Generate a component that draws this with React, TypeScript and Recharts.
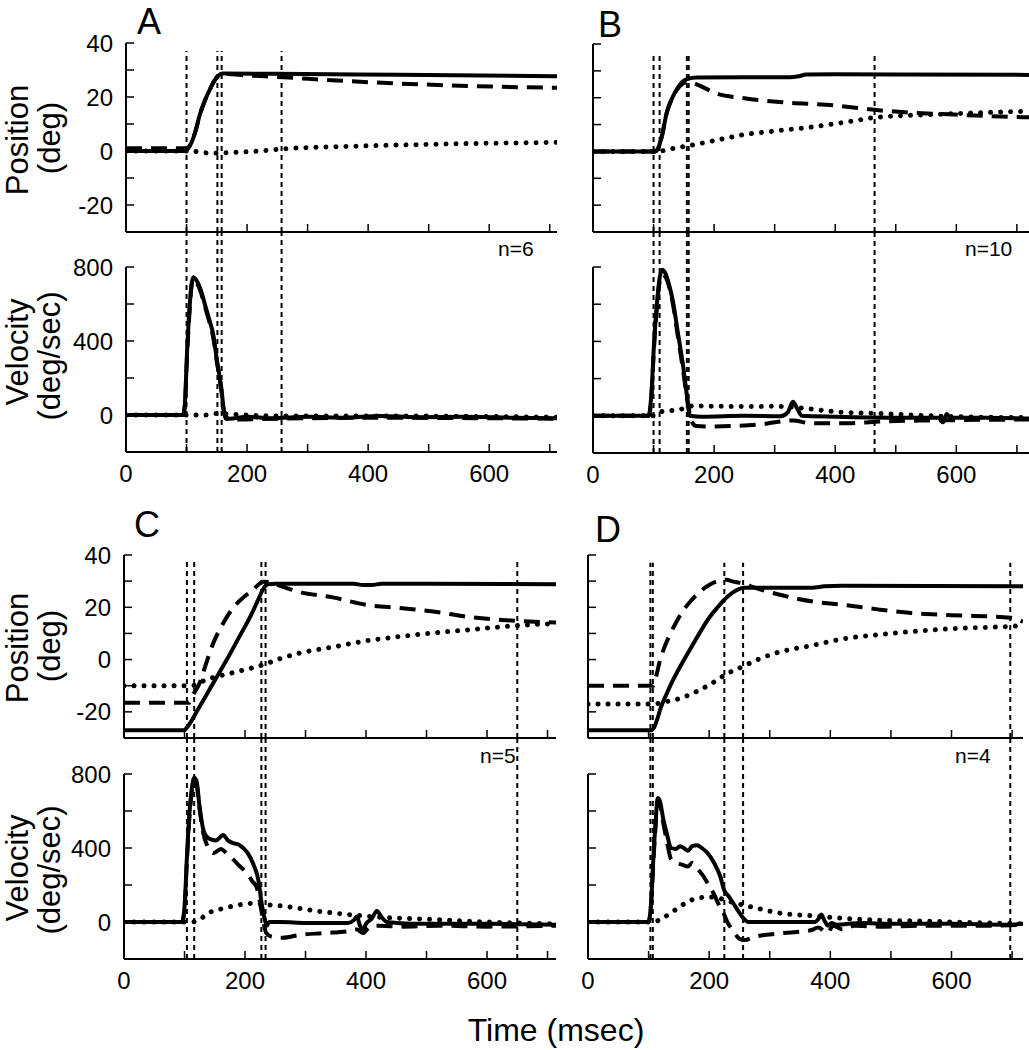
import React from "react";
import { Line, LineChart, ReferenceLine, XAxis, YAxis } from "recharts";

type Pt = [number, number];

const FONT = '"Liberation Sans", Arial, Helvetica, sans-serif';

// axes
const timeTicks = [0, 100, 200, 300, 400, 500, 600, 700];
const timeLabels = [0, 200, 400, 600];
const posTicks = [-30, -20, -10, 0, 10, 20, 30, 40];
const posLabels = [-20, 0, 20, 40];
const velTicks = [-200, 0, 200, 400, 600, 800];
const velLabels = [0, 400, 800];

// ---- panel A ----
const aEvents = [100, 151, 158, 257];
const aPosSolid: Pt[] = [[0, 0], [98, 0], [102, 0.8], [108, 3], [115, 7.5], [122, 13.5], [130, 18.5], [139, 23], [146, 26], [153, 28], [160, 28.7], [250, 28.6], [450, 28.2], [712, 27.7]];
const aPosDashed: Pt[] = [[0, 1], [98, 1], [102, 1.2], [108, 3], [115, 7.5], [122, 13.5], [130, 18.5], [139, 23], [146, 26], [153, 28], [162, 28.5], [200, 28], [260, 27.3], [340, 26.2], [450, 25], [617, 23.8], [712, 23.4]];
const aPosDotted: Pt[] = [[0, 0], [105, 0], [140, -0.8], [170, -0.6], [220, 0], [260, 0.8], [350, 1.6], [450, 2.2], [550, 2.7], [650, 3], [712, 3.2]];
const aVelSolid: Pt[] = [[0, 0], [94, 0], [97, 50], [101, 350], [105, 580], [108, 700], [111, 745], [116, 730], [123, 680], [131, 590], [138, 510], [144, 437], [150, 300], [155, 200], [158, 133], [161, 40], [164, 0], [170, -20], [200, -10], [240, -18], [300, -10], [360, -15], [420, -5], [480, -12], [560, -10], [640, -15], [712, -18]];
const aVelDashed: Pt[] = [[0, 0], [94, 0], [97, 40], [101, 330], [105, 560], [108, 690], [111, 735], [116, 720], [123, 670], [131, 580], [138, 500], [144, 420], [150, 290], [155, 190], [158, 120], [161, 30], [165, -20], [180, -25], [250, -20], [400, -15], [712, -20]];
const aVelDotted: Pt[] = [[0, 0], [100, 0], [130, 0], [150, 8], [170, 5], [250, -5], [400, -5], [712, -12]];

// ---- panel B ----
const bEvents = [100, 110, 155, 158, 465];
const bPosSolid: Pt[] = [[0, 0], [103, 0], [107, 1], [113, 5], [122, 14.6], [130, 19.5], [138, 23], [147, 25.8], [157, 27], [171, 27.5], [250, 27.6], [325, 27.6], [340, 28], [352, 28.6], [400, 28.7], [720, 28.5]];
const bPosDashed: Pt[] = [[0, 0], [103, 0], [107, 1], [113, 5], [122, 14.6], [130, 19.5], [138, 22.8], [147, 25], [157, 26], [171, 25], [205, 21.5], [250, 19.8], [313, 18.3], [396, 17.2], [468, 15.4], [520, 14.5], [578, 13.9], [650, 13.2], [720, 12.7]];
const bPosDotted: Pt[] = [[0, 0], [105, 0], [130, 1], [160, 2.2], [200, 4], [248, 6.2], [300, 7.6], [358, 9], [420, 11], [468, 12.7], [520, 13.4], [578, 13.9], [650, 14.5], [720, 15]];
const bVelSolid: Pt[] = [[0, 0], [92, 0], [96, 100], [101, 400], [106, 620], [110, 740], [114, 785], [119, 770], [126, 700], [132, 615], [140, 450], [149, 264], [155, 110], [160, 0], [180, -5], [250, 0], [310, -2], [322, 20], [330, 75], [337, 40], [345, 0], [400, -5], [500, -10], [570, -10], [578, -35], [584, 10], [590, -10], [650, -10], [720, -15]];
const bVelDashed: Pt[] = [[0, 0], [92, 0], [96, 80], [101, 380], [106, 600], [110, 720], [114, 760], [119, 750], [126, 690], [132, 600], [140, 430], [149, 240], [156, 80], [163, -30], [170, -55], [190, -58], [230, -55], [280, -45], [310, -30], [330, -25], [360, -40], [420, -40], [480, -30], [560, -25], [720, -20]];
const bVelDotted: Pt[] = [[0, 0], [100, 0], [110, 20], [122, 26], [145, 35], [160, 53], [250, 50], [303, 51], [350, 40], [403, 21], [468, 13], [520, 5], [600, -5], [720, -10]];

// ---- panel C ----
const cEvents = [104, 116, 227, 234, 650];
const cPosSolid: Pt[] = [[0, -27], [100, -27], [104, -26], [110, -24], [120, -20], [135, -14], [150, -8], [170, 0], [190, 8.5], [210, 17], [222, 23], [230, 27], [238, 28.8], [250, 29], [380, 29], [395, 28.5], [410, 28.5], [425, 29], [714, 28.8]];
const cPosDashed: Pt[] = [[0, -16.5], [108, -16.5], [113, -14], [125, -9], [135, -2], [147, 6], [163, 13.5], [180, 19.7], [196, 23.5], [213, 26.6], [230, 29.8], [240, 29.6], [252, 28.7], [291, 25.8], [345, 23.8], [401, 20.9], [456, 19.7], [511, 18.4], [566, 16.4], [649, 14.8], [714, 14.2]];
const cPosDotted: Pt[] = [[0, -10], [112, -10], [135, -7.8], [180, -5], [230, -2], [260, 0.5], [291, 2.5], [345, 4.8], [401, 7.2], [456, 8.8], [511, 10.2], [566, 11.3], [649, 13], [714, 13.8]];
const cVelSolid: Pt[] = [[0, 0], [96, 0], [100, 80], [104, 350], [108, 580], [112, 720], [116, 780], [120, 760], [125, 620], [131, 500], [137, 460], [145, 445], [152, 440], [158, 455], [164, 470], [172, 440], [180, 427], [190, 418], [197, 400], [205, 370], [213, 319], [222, 227], [228, 90], [233, 10], [236, -20], [240, 0], [260, 0], [300, -5], [370, -5], [380, 10], [385, 30], [390, -20], [395, -40], [400, -10], [410, 20], [418, 60], [425, 30], [435, 0], [450, -5], [500, -10], [600, -10], [714, -15]];
const cVelDashed: Pt[] = [[0, 0], [96, 0], [100, 70], [104, 330], [108, 560], [112, 700], [116, 760], [120, 740], [125, 610], [131, 480], [138, 410], [148, 373], [155, 385], [160, 395], [170, 370], [180, 340], [192, 300], [203, 265], [212, 220], [219, 190], [225, 100], [230, 10], [235, -60], [245, -80], [262, -85], [290, -70], [330, -60], [370, -50], [385, -40], [395, -60], [405, -30], [420, -20], [460, -25], [520, -20], [600, -25], [714, -20]];
const cVelDotted: Pt[] = [[0, 0], [110, 0], [125, 12], [135, 40], [160, 70], [180, 86], [213, 101], [240, 92], [263, 86], [317, 60], [372, 40], [428, 25], [500, 15], [600, 0], [714, -10]];

// ---- panel D ----
const dEvents = [103, 107, 225, 256, 697];
const dPosSolid: Pt[] = [[0, -27], [105, -27], [109, -26], [114, -23], [120, -18.5], [130, -13], [140, -8], [155, -1.5], [170, 4.5], [185, 10.5], [200, 16], [214, 20], [230, 24], [245, 26.5], [258, 27.5], [300, 27.5], [370, 27.5], [390, 28], [420, 28.2], [718, 28]];
const dPosDashed: Pt[] = [[0, -10], [108, -10], [113, -6], [118, -1], [125, 4], [135, 9.5], [145, 14], [155, 18], [170, 22.5], [185, 26], [200, 28.5], [214, 30], [228, 30.5], [240, 29.8], [258, 29], [275, 27.5], [313, 25], [368, 22.3], [420, 21], [478, 19.2], [533, 17.8], [600, 17], [698, 16], [718, 14.5]];
const dPosDotted: Pt[] = [[0, -17], [110, -17], [120, -16.5], [150, -15], [181, -12], [205, -9], [225, -6], [252, -3], [280, 0], [313, 2.7], [368, 5.3], [423, 8], [480, 9.5], [533, 10.7], [600, 11.8], [698, 12.7], [718, 13]];
const dVelSolid: Pt[] = [[0, 0], [100, 0], [104, 100], [108, 350], [112, 560], [115, 670], [119, 650], [124, 560], [130, 480], [137, 400], [145, 395], [152, 410], [158, 400], [165, 385], [172, 410], [180, 415], [188, 400], [198, 370], [208, 320], [218, 250], [225, 170], [232, 140], [240, 100], [250, 50], [258, 15], [264, 0], [300, 0], [375, 0], [380, 15], [385, 40], [390, 10], [396, -20], [402, -5], [410, -15], [450, -5], [500, -10], [600, -10], [690, -15], [718, -10]];
const dVelDashed: Pt[] = [[0, 0], [100, 0], [104, 90], [108, 330], [112, 540], [115, 650], [119, 630], [124, 540], [130, 440], [137, 340], [145, 320], [155, 310], [165, 300], [172, 320], [180, 290], [190, 250], [198, 206], [208, 150], [215, 100], [222, 60], [230, 0], [240, -50], [250, -90], [258, -97], [275, -80], [313, -63], [340, -55], [368, -45], [380, -30], [395, -60], [405, -20], [420, -40], [440, -20], [480, -25], [550, -20], [650, -20], [718, -15]];
const dVelDotted: Pt[] = [[0, 0], [108, 0], [120, 15], [137, 50], [160, 100], [181, 130], [200, 135], [214, 130], [235, 110], [258, 90], [285, 70], [313, 50], [368, 34], [420, 20], [480, 10], [550, 5], [650, -5], [718, -10]];

const toRows = (a: Pt[]) => a.map(([t, v]) => ({ t, v }));

const SOLID = { stroke: "#000", strokeWidth: 4 };
const DASHED = { stroke: "#000", strokeWidth: 4, strokeDasharray: "16 9" };
const DOTTED = { stroke: "#000", strokeWidth: 5, strokeDasharray: "0.01 10", strokeLinecap: "round" as const };

type Box = { x: number; y: number; w: number; h: number };

function SubPlot(props: {
  box: Box;
  gapTop: number;
  xMax: number;
  yDomain: [number, number];
  yTicks: number[];
  yShown: number[];
  xShown: number[];
  events: number[];
  evLow: number;
  evHigh: number;
  solid: Pt[];
  dashed: Pt[];
  dotted: Pt[];
}) {
  const { box, gapTop, xMax, yDomain, yTicks, yShown, xShown, events, evLow, evHigh } = props;
  const yW = 70;
  const xH = 40;
  const mr = 8;
  const tickStyle = { fill: "#000", fontSize: 24, fontFamily: FONT };
  return (
    <div style={{ position: "absolute", left: box.x - yW, top: box.y - gapTop }}>
      <LineChart
        width={yW + box.w + mr}
        height={gapTop + box.h + xH}
        margin={{ top: gapTop, right: mr, bottom: 0, left: 0 }}
      >
        <XAxis
          type="number"
          dataKey="t"
          domain={[0, xMax]}
          ticks={timeTicks}
          allowDataOverflow
          interval={0}
          height={xH}
          tickSize={-8}
          tickMargin={21}
          tickFormatter={(v: number) => (xShown.includes(v) ? String(v) : "")}
          axisLine={{ stroke: "#000", strokeWidth: 2 }}
          tickLine={{ stroke: "#000", strokeWidth: 1.5 }}
          tick={tickStyle}
        />
        <YAxis
          type="number"
          domain={yDomain}
          ticks={yTicks}
          allowDataOverflow
          interval={0}
          width={yW}
          tickSize={-8}
          tickMargin={21}
          tickFormatter={(v: number) => (yShown.includes(v) ? String(v) : "")}
          axisLine={{ stroke: "#000", strokeWidth: 2 }}
          tickLine={{ stroke: "#000", strokeWidth: 1.5 }}
          tick={tickStyle}
        />
        {events.map((e) => (
          <ReferenceLine
            key={e}
            segment={[
              { x: e, y: evLow },
              { x: e, y: evHigh },
            ]}
            ifOverflow="visible"
            stroke="#000"
            strokeWidth={2}
            strokeDasharray="5 4"
          />
        ))}
        <Line data={toRows(props.dotted)} dataKey="v" type="monotone" dot={false} activeDot={false} isAnimationActive={false} {...DOTTED} />
        <Line data={toRows(props.dashed)} dataKey="v" type="monotone" dot={false} activeDot={false} isAnimationActive={false} {...DASHED} />
        <Line data={toRows(props.solid)} dataKey="v" type="monotone" dot={false} activeDot={false} isAnimationActive={false} {...SOLID} />
      </LineChart>
    </div>
  );
}

type Panel = {
  letter: string;
  x: number;
  w: number;
  xMax: number;
  posY: number;
  posH: number;
  velY: number;
  velH: number;
  labels: boolean;
  events: number[];
  posTop: number;
  pos: [Pt[], Pt[], Pt[]];
  vel: [Pt[], Pt[], Pt[]];
  n: string;
  nX: number;
  nY: number;
  lX: number;
  lY: number;
};

const panels: Panel[] = [
  { letter: "A", x: 126, w: 431, xMax: 712, posY: 43, posH: 189, velY: 267, velH: 185, labels: true, events: aEvents, posTop: 37, pos: [aPosSolid, aPosDashed, aPosDotted], vel: [aVelSolid, aVelDashed, aVelDotted], n: "n=6", nX: 498, nY: 249, lX: 149, lY: 22 },
  { letter: "B", x: 593, w: 436, xMax: 720, posY: 44, posH: 188, velY: 267, velH: 186, labels: false, events: bEvents, posTop: 37, pos: [bPosSolid, bPosDashed, bPosDotted], vel: [bVelSolid, bVelDashed, bVelDotted], n: "n=10", nX: 965, nY: 249, lX: 610, lY: 25 },
  { letter: "C", x: 124, w: 432, xMax: 714, posY: 555, posH: 183, velY: 774, velH: 185, labels: true, events: cEvents, posTop: 37.5, pos: [cPosSolid, cPosDashed, cPosDotted], vel: [cVelSolid, cVelDashed, cVelDotted], n: "n=5", nX: 480, nY: 756, lX: 147, lY: 525 },
  { letter: "D", x: 588, w: 435, xMax: 718, posY: 555, posH: 183, velY: 774, velH: 185, labels: false, events: dEvents, posTop: 37, pos: [dPosSolid, dPosDashed, dPosDotted], vel: [dVelSolid, dVelDashed, dVelDotted], n: "n=4", nX: 955, nY: 756, lX: 608, lY: 530 },
];

function VText({ cx, cy, children }: { cx: number; cy: number; children: React.ReactNode }) {
  return (
    <div
      style={{
        position: "absolute",
        left: cx,
        top: cy,
        transform: "translate(-50%, -50%) rotate(-90deg)",
        fontSize: 31,
        lineHeight: 1.1,
        whiteSpace: "nowrap",
      }}
    >
      {children}
    </div>
  );
}

function Abs({ x, y, size, center, children }: { x: number; y: number; size: number; center?: boolean; children: React.ReactNode }) {
  return (
    <div
      style={{
        position: "absolute",
        left: x,
        top: y,
        transform: center ? "translate(-50%, -50%)" : "translate(0, -50%)",
        fontSize: size,
        lineHeight: 1.2,
        whiteSpace: "nowrap",
      }}
    >
      {children}
    </div>
  );
}

export default function App() {
  return (
    <div
      style={{
        position: "absolute",
        left: 0,
        top: 0,
        width: 1029,
        height: 1050,
        overflow: "hidden",
        background: "#fff",
        color: "#000",
        fontFamily: FONT,
      }}
    >
      {panels.map((p) => {
        const gap = p.velY - (p.posY + p.posH);
        const velHigh = 800 + (gap * 1000) / p.velH;
        return (
          <React.Fragment key={p.letter}>
            <SubPlot
              box={{ x: p.x, y: p.posY, w: p.w, h: p.posH }}
              gapTop={18}
              xMax={p.xMax}
              yDomain={[-30, 40]}
              yTicks={posTicks}
              yShown={p.labels ? posLabels : []}
              xShown={[]}
              events={p.events}
              evLow={-30}
              evHigh={p.posTop}
              solid={p.pos[0]}
              dashed={p.pos[1]}
              dotted={p.pos[2]}
            />
            <SubPlot
              box={{ x: p.x, y: p.velY, w: p.w, h: p.velH }}
              gapTop={gap}
              xMax={p.xMax}
              yDomain={[-200, 800]}
              yTicks={velTicks}
              yShown={p.labels ? velLabels : []}
              xShown={timeLabels}
              events={p.events}
              evLow={-200}
              evHigh={velHigh}
              solid={p.vel[0]}
              dashed={p.vel[1]}
              dotted={p.vel[2]}
            />
            <Abs x={p.lX} y={p.lY} size={36} center>
              {p.letter}
            </Abs>
            <Abs x={p.nX} y={p.nY} size={21}>
              {p.n}
            </Abs>
          </React.Fragment>
        );
      })}
      <VText cx={18} cy={140}>Position</VText>
      <VText cx={50} cy={138}>(deg)</VText>
      <VText cx={18} cy={352}>Velocity</VText>
      <VText cx={50} cy={356}>(deg/sec)</VText>
      <VText cx={18} cy={648}>Position</VText>
      <VText cx={50} cy={646}>(deg)</VText>
      <VText cx={18} cy={868}>Velocity</VText>
      <VText cx={50} cy={870}>(deg/sec)</VText>
      <Abs x={556} y={1030} size={32} center>
        Time (msec)
      </Abs>
    </div>
  );
}
